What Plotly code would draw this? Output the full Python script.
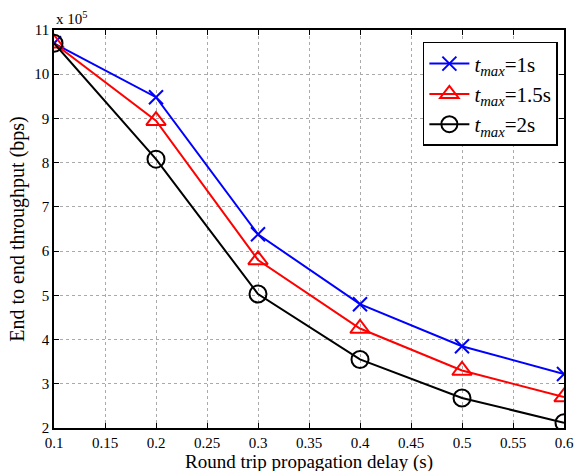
import plotly.graph_objects as go

delay = [0.1, 0.2, 0.3, 0.4, 0.5, 0.6]
tp_1s = [10.7, 9.48, 6.38, 4.8, 3.85, 3.22]
tp_15s = [10.7, 8.95, 5.8, 4.25, 3.3, 2.7]
tp_2s = [10.7, 8.08, 5.03, 3.55, 2.68, 2.12]

x_ticks = [0.1, 0.15, 0.2, 0.25, 0.3, 0.35, 0.4, 0.45, 0.5, 0.55, 0.6]
y_ticks = [2, 3, 4, 5, 6, 7, 8, 9, 10, 11]

FONT = "Liberation Serif"

fig = go.Figure()
fig.add_trace(go.Scatter(x=delay, y=tp_1s, mode="lines+markers",
                         name="<i>t</i><sub><i>max</i></sub>=1s",
                         line=dict(color="#0000ff", width=2),
                         marker=dict(symbol="x-thin", size=14, line=dict(color="#0000ff", width=2))))
fig.add_trace(go.Scatter(x=delay, y=tp_15s, mode="lines+markers",
                         name="<i>t</i><sub><i>max</i></sub>=1.5s",
                         line=dict(color="#ff0000", width=2),
                         marker=dict(symbol="triangle-up-open", size=17, line=dict(color="#ff0000", width=2))))
fig.add_trace(go.Scatter(x=delay, y=tp_2s, mode="lines+markers",
                         name="<i>t</i><sub><i>max</i></sub>=2s",
                         line=dict(color="#000000", width=2),
                         marker=dict(symbol="circle-open", size=17, line=dict(color="#000000", width=2))))

axis_common = dict(showline=True, linecolor="black", linewidth=1.5, mirror="ticks",
                   ticks="inside", ticklen=5, tickcolor="black", automargin=False,
                   showgrid=True, gridcolor="#aaaaaa", griddash="dot", gridwidth=1,
                   zeroline=False, tickfont=dict(family=FONT, size=15, color="black"))

fig.update_xaxes(range=[0.1, 0.6], tickvals=x_ticks, ticktext=[str(v) for v in x_ticks],
                 **axis_common)
fig.update_yaxes(range=[2, 11], tickvals=y_ticks, ticktext=[str(v) for v in y_ticks],
                 title=dict(text="End to end throughput (bps)", font=dict(family=FONT, size=20, color="black"), standoff=4),
                 **axis_common)

fig.add_annotation(x=0.5, y=0, xref="paper", yref="paper", xanchor="center", yanchor="top",
                   text="Round trip propagation delay (s)", showarrow=False, yshift=-21,
                   font=dict(family=FONT, size=19, color="black"))
fig.add_annotation(x=0, y=1, xref="paper", yref="paper", xanchor="left", yanchor="bottom",
                   text="x 10<sup>5</sup>", showarrow=False, yshift=1,
                   font=dict(family=FONT, size=15, color="black"))

fig.update_layout(width=577, height=471, plot_bgcolor="white", paper_bgcolor="white",
                  margin=dict(l=54, r=13, t=30, b=43),
                  font=dict(family=FONT, color="black"),
                  legend=dict(x=0.988, y=0.97, xanchor="right", yanchor="top",
                              bgcolor="white", bordercolor="black", borderwidth=1.5,
                              font=dict(family=FONT, size=21, color="black"),
                              tracegroupgap=0, itemwidth=40))

fig.write_html("out.html")
